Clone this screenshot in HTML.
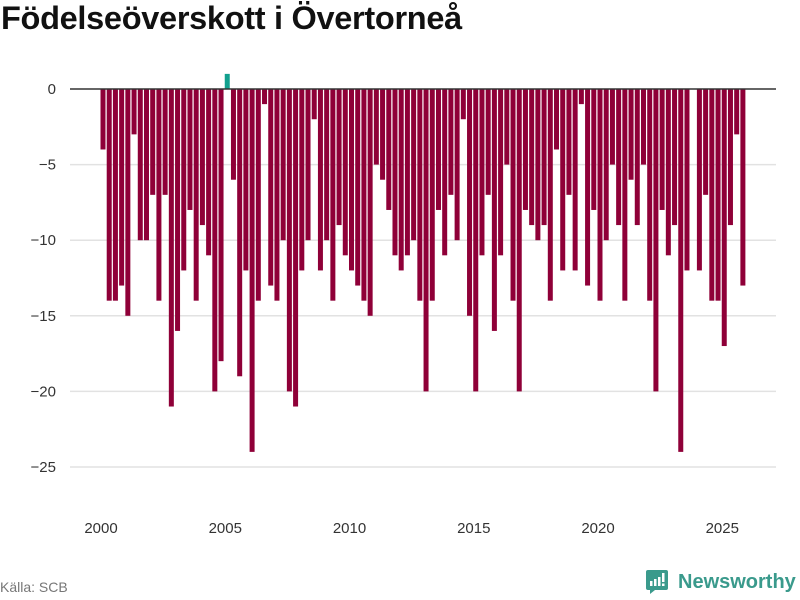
<!DOCTYPE html>
<html><head><meta charset="utf-8"><style>
body{margin:0;width:800px;height:600px;background:#fff;font-family:"Liberation Sans","DejaVu Sans",sans-serif;overflow:hidden;position:relative}
#title{position:absolute;left:1px;top:0px;font-size:32.5px;font-weight:bold;color:#111;letter-spacing:-0.3px}
#src{position:absolute;left:0;top:579px;font-size:14px;color:#777}
#logo{position:absolute;left:645px;top:569px;display:flex;align-items:center;color:#3a9a8c;font-size:20px;font-weight:bold}
</style></head><body>
<div id="title">Födelseöverskott i Övertorneå</div>
<svg id="chart" width="800" height="600" style="position:absolute;left:0;top:0"></svg>
<div id="src">Källa: SCB</div>
<div id="logo">
<svg width="24" height="26" viewBox="0 0 24 26"><path d="M3 1h18a2 2 0 0 1 2 2v16a2 2 0 0 1-2 2H10l-5 4v-4H3a2 2 0 0 1-2-2V3a2 2 0 0 1 2-2z" fill="#3a9a8c"/><rect x="5" y="12" width="2.5" height="5" fill="#fff"/><rect x="9" y="10" width="2.5" height="7" fill="#fff"/><rect x="13" y="8" width="2.5" height="9" fill="#fff"/><rect x="17" y="4" width="2.5" height="9" fill="#fff"/><rect x="17" y="14.5" width="2.5" height="2.5" fill="#fff"/></svg>
<span style="margin-left:9px">Newsworthy</span></div>
<script>
const startYear = 2000;
const values = [-4,-14,-14,-13,-15,-3,-10,-10,-7,-14,-7,-21,-16,-12,-8,-14,-9,-11,-20,-18,
1,-6,-19,-12,-24,-14,-1,-13,-14,-10,-20,-21,-12,-10,-2,-12,-10,-14,-9,-11,
-12,-13,-14,-15,-5,-6,-8,-11,-12,-11,-10,-14,-20,-14,-8,-11,-7,-10,-2,-15,
-20,-11,-7,-16,-11,-5,-14,-20,-8,-9,-10,-9,-14,-4,-12,-7,-12,-1,-13,-8,
-14,-10,-5,-9,-14,-6,-9,-5,-14,-20,-8,-11,-9,-24,-12,0,-12,-7,-14,-14,
-17,-9,-3,-13];
const yTicks = [0,-5,-10,-15,-20,-25];
const xTicks = [2000,2005,2010,2015,2020,2025];
const NS='http://www.w3.org/2000/svg';
const svg=document.getElementById('chart');
function x(t){return 100+(t-startYear)*24.85;}
function y(v){return 89-v*15.12;}
function mk(tag,attrs){const e=document.createElementNS(NS,tag);for(const k in attrs)e.setAttribute(k,attrs[k]);svg.appendChild(e);return e;}
yTicks.forEach(v=>{
  if(v!==0){const g=mk('line',{x1:70,x2:776,y1:y(v),y2:y(v),stroke:'#e2e2e2','stroke-width':1.5});
  
  }
  const t=mk('text',{x:56,y:y(v)+5,'text-anchor':'end','font-size':15,fill:'#333','font-family':'Liberation Sans, DejaVu Sans, sans-serif'});
  t.textContent=v===0?'0':'\u2212'+Math.abs(v);
  
  
});
values.forEach((v,i)=>{
  const t=startYear+i/4;
  const y0=y(0),y1=y(v);
  const r=mk('rect',{x:x(t)+0.5,width:5,y:Math.min(y0,y1),height:Math.abs(y1-y0),fill:v>0?'#12a08e':'#8f0038'});
  
  
});
const zl=mk('line',{x1:70,x2:776,y1:y(0),y2:y(0),stroke:'#333','stroke-width':1.5});


xTicks.forEach(yr=>{
  const t=mk('text',{x:x(yr)+1,y:533,'text-anchor':'middle','font-size':15,fill:'#333','font-family':'Liberation Sans, DejaVu Sans, sans-serif'});
  t.textContent=yr;
  
  
});
</script>
</body></html>
